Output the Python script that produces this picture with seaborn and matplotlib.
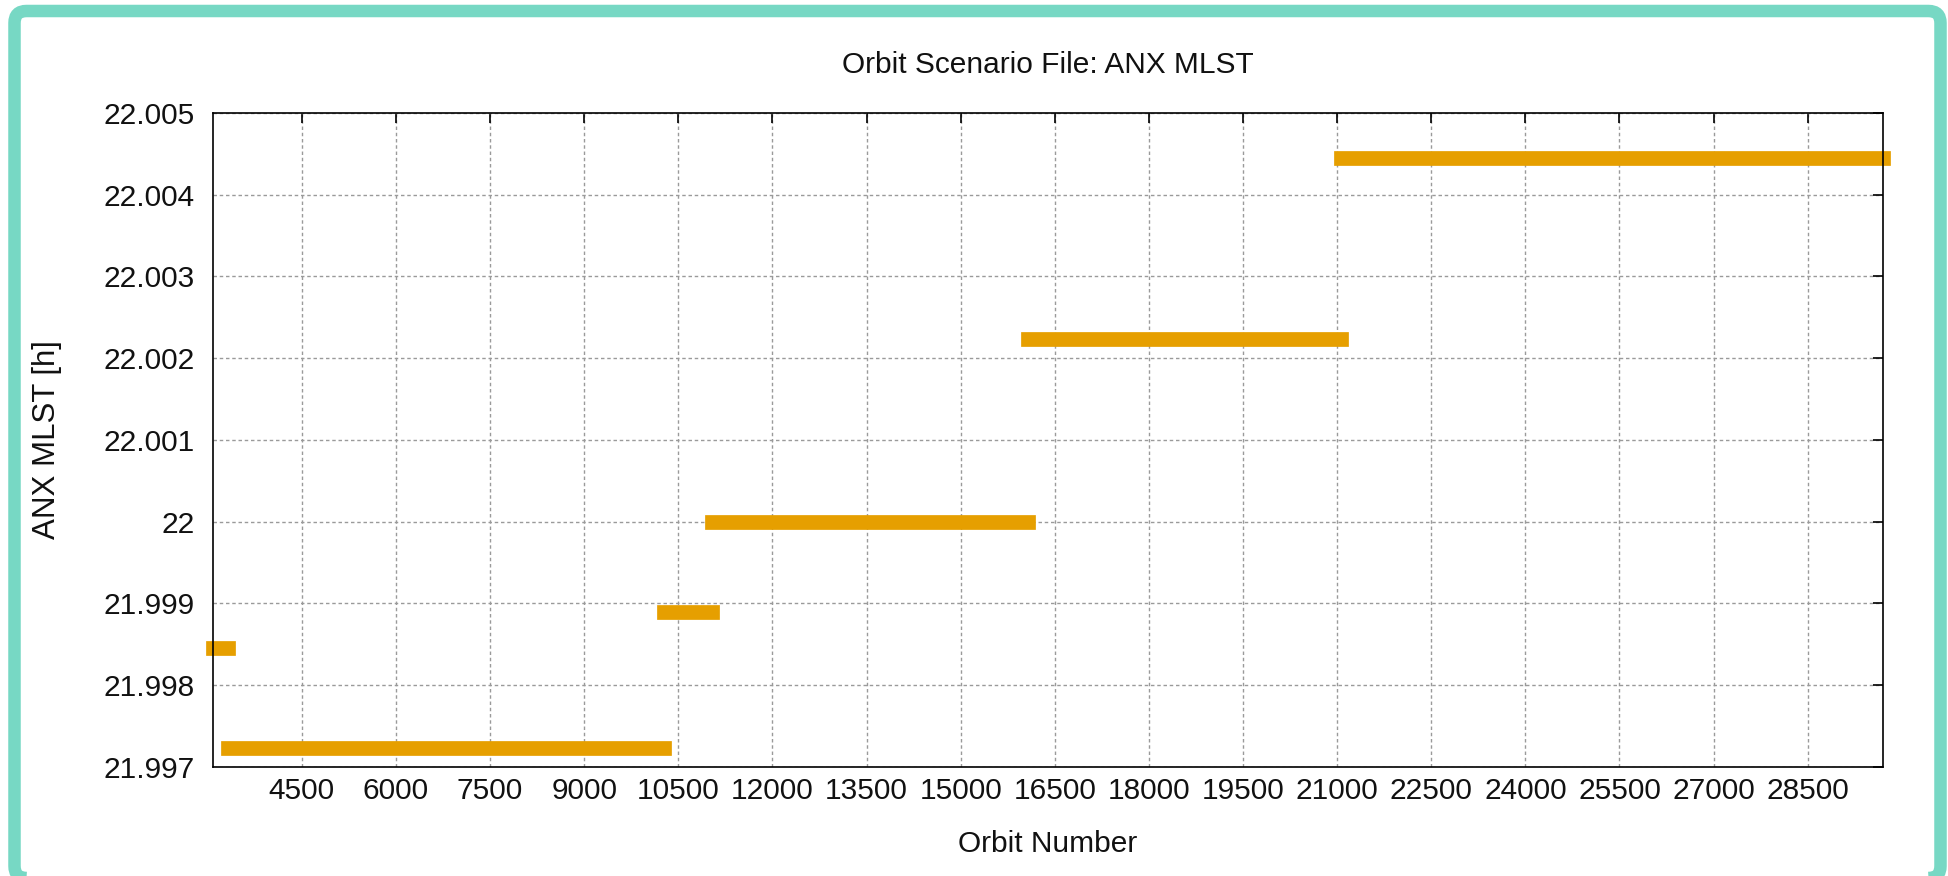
import matplotlib
matplotlib.use("Agg")
import matplotlib.pyplot as plt
from matplotlib.patches import FancyBboxPatch
from matplotlib.ticker import FuncFormatter
import seaborn as sns
import pandas as pd

# ---- data ----
seg_start = [3085, 3325, 10280, 11045, 16075, 21066]
seg_end = [3325, 10280, 11045, 16075, 21066, 29700]
anx_mlst = [21.99846, 21.99723, 21.99889, 22.00000, 22.00223, 22.00445]

x_ticks = [4500, 6000, 7500, 9000, 10500, 12000, 13500, 15000, 16500,
           18000, 19500, 21000, 22500, 24000, 25500, 27000, 28500]
y_ticks = [21.997, 21.998, 21.999, 22.000, 22.001, 22.002, 22.003, 22.004, 22.005]

title = "Orbit Scenario File: ANX MLST"
x_label = "Orbit Number"
y_label = "ANX MLST [h]"

rows = []
for i, (s, e, v) in enumerate(zip(seg_start, seg_end, anx_mlst)):
    rows.append({"segment": i, "orbit": s, "mlst": v})
    rows.append({"segment": i, "orbit": e, "mlst": v})
df = pd.DataFrame(rows)

sns.set_style("white")
plt.rcParams["font.family"] = ["Liberation Sans", "DejaVu Sans"]

fig = plt.figure(figsize=(19.49, 8.76), dpi=100)
fig.patch.set_facecolor("white")
ax = fig.add_axes([0.10929, 0.12443, 0.85685, 0.74658])

sns.lineplot(data=df, x="orbit", y="mlst", units="segment", estimator=None,
             color="#E69F00", lw=10.6, solid_capstyle="projecting",
             clip_on=False, legend=False, ax=ax)

ax.set_xlim(3085, 29700)
ax.set_ylim(21.997, 22.005)
ax.set_xticks(x_ticks)
ax.set_yticks(y_ticks)
ax.yaxis.set_major_formatter(FuncFormatter(lambda v, p: f"{v:g}"))

ax.set_axisbelow(True)
ax.grid(True, color="#9a9a9a", lw=1.0, linestyle=(0, (2.5, 2)))

for sp in ax.spines.values():
    sp.set_visible(True)
    sp.set_color("black")
    sp.set_linewidth(1.2)

ax.tick_params(axis="both", which="major", direction="in", length=7.5, width=1.2,
               color="black", labelsize=21.5, labelcolor="#111111",
               top=True, right=True)
ax.tick_params(axis="x", pad=7.5)
ax.tick_params(axis="y", pad=13)

ax.set_title(title, fontsize=21.5, pad=29, color="#111111")
ax.set_xlabel(x_label, fontsize=21.5, labelpad=18, color="#111111")
ax.set_ylabel(y_label, fontsize=22.5, labelpad=30, color="#111111")

frame = FancyBboxPatch((0.145, -0.02), 19.405 - 0.145, 8.65 + 0.02,
                       boxstyle="round,pad=0,rounding_size=0.12",
                       transform=fig.dpi_scale_trans, fill=False,
                       edgecolor="#77D8C4", lw=9.0)
fig.add_artist(frame)

fig.savefig("out.png", dpi=100)
